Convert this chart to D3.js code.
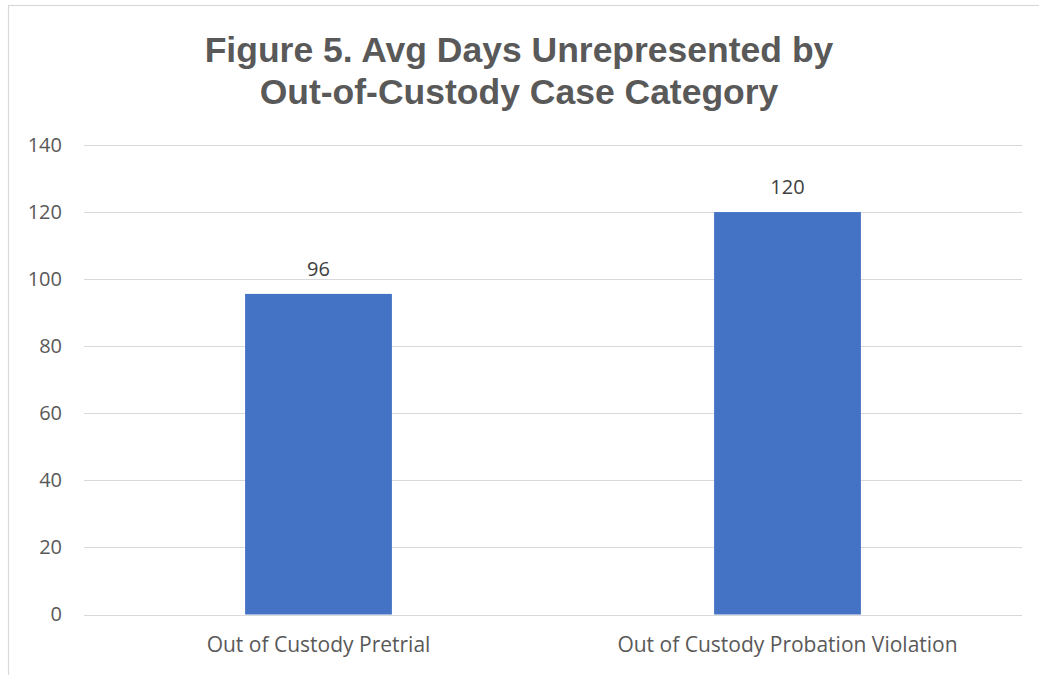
<!DOCTYPE html>
<html>
<head>
<meta charset="utf-8">
<script src="https://cdn.jsdelivr.net/npm/d3@7"></script>
<style>
  html, body { margin: 0; padding: 0; background: #fff; }
  svg { display: block; }
</style>
</head>
<body>
<svg id="chart" width="1039" height="675"></svg>
<script>
const categories = ["Out of Custody Pretrial", "Out of Custody Probation Violation"];
const values = [95.6, 120];
const valueLabels = ["96", "120"];
const yTicks = [0, 20, 40, 60, 80, 100, 120, 140];
const titleLines = ["Figure 5. Avg Days Unrepresented by", "Out-of-Custody Case Category"];

const svg = d3.select("#chart");
const plot = { left: 84, right: 1022, top: 145, bottom: 614.5 };

// chart border (partial, as cropped in reference)
svg.append("rect")
  .attr("x", 8.5).attr("y", 5.5)
  .attr("width", 1100).attr("height", 1000)
  .attr("fill", "#fff")
  .attr("stroke", "#d9d9d9").attr("stroke-width", 1.2);

const x = d3.scaleBand()
  .domain(categories)
  .range([plot.left, plot.right])
  .paddingInner(0.687)
  .paddingOuter(0.687 / 2);

const y = d3.scaleLinear()
  .domain([0, 140])
  .range([plot.bottom, plot.top]);

// gridlines
svg.append("g")
  .selectAll("line")
  .data(yTicks)
  .join("line")
  .attr("x1", plot.left).attr("x2", plot.right)
  .attr("y1", d => Math.round(y(d)) + 0.5).attr("y2", d => Math.round(y(d)) + 0.5)
  .attr("stroke", "#d9d9d9").attr("stroke-width", 1.2);

// y axis labels
const yAxis = d3.axisLeft(y).tickValues(yTicks).tickSize(0).tickPadding(0);
const ya = svg.append("g").attr("transform", `translate(62,0)`).call(yAxis);
ya.select(".domain").remove();
ya.selectAll("text")
  .attr("font-family", "'Open Sans', sans-serif")
  .attr("font-size", 20)
  .attr("fill", "#595959");

// bars
svg.append("g")
  .selectAll("rect")
  .data(values)
  .join("rect")
  .attr("x", (d, i) => x(categories[i]))
  .attr("width", x.bandwidth())
  .attr("y", d => y(d))
  .attr("height", d => y(0) - y(d))
  .attr("fill", "#4472c4");

// data labels
svg.append("g")
  .selectAll("text")
  .data(values)
  .join("text")
  .attr("x", (d, i) => x(categories[i]) + x.bandwidth() / 2)
  .attr("y", d => y(d) - 18)
  .attr("text-anchor", "middle")
  .attr("font-family", "'Open Sans', sans-serif")
  .attr("font-size", 20)
  .attr("fill", "#404040")
  .text((d, i) => valueLabels[i]);

// x axis labels
const xAxis = d3.axisBottom(x).tickSize(0).tickPadding(0);
const xa = svg.append("g").attr("transform", `translate(0,${plot.bottom + 23})`).call(xAxis);
xa.select(".domain").remove();
xa.selectAll("text")
  .attr("font-family", "'Open Sans', sans-serif")
  .attr("font-size", 21)
  .attr("fill", "#595959");

// title
svg.append("text")
  .attr("text-anchor", "middle")
  .attr("font-family", "'Liberation Sans', Arial, sans-serif")
  .attr("font-weight", "bold")
  .attr("font-size", 35.5)
  .attr("fill", "#595959")
  .selectAll("tspan")
  .data(titleLines)
  .join("tspan")
  .attr("x", 519)
  .attr("y", (d, i) => 62 + i * 42)
  .text(d => d);
</script>
</body>
</html>
